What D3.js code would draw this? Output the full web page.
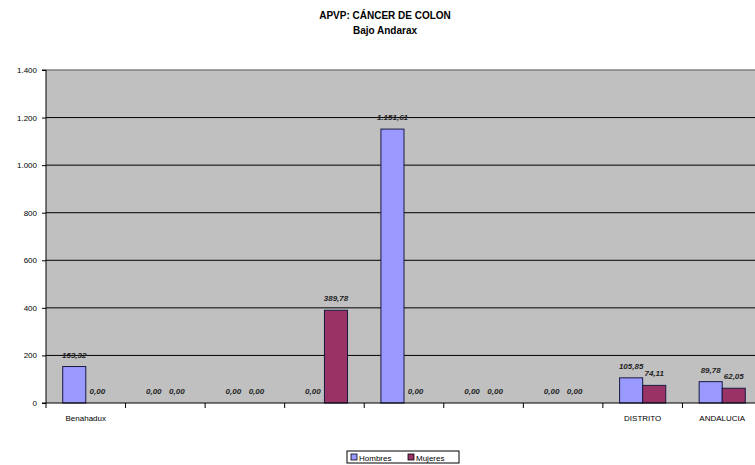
<!DOCTYPE html>
<html>
<head>
<meta charset="utf-8">
<script src="https://cdn.jsdelivr.net/npm/d3@7"></script>
<style>
  html, body { margin: 0; padding: 0; background: #fff; }
  svg { display: block; font-family: "Liberation Sans", Arial, sans-serif; }
</style>
</head>
<body>
<svg id="chart" width="755" height="465"></svg>
<script>
// Years of potential life lost (APVP), colon cancer, by municipality
const categories = ["Benahadux", "", "", "", "", "", "", "DISTRITO", "ANDALUCIA"];
const hombres = [153.32, 0.00, 0.00, 0.00, 1151.61, 0.00, 0.00, 105.85, 89.78];
const mujeres = [0.00, 0.00, 0.00, 389.78, 0.00, 0.00, 0.00, 74.11, 62.05];
const seriesNames = ["Hombres", "Mujeres"];
const yTicks = [0, 200, 400, 600, 800, 1000, 1200, 1400];

const colors = { Hombres: "#9999FF", Mujeres: "#993366" };

const svg = d3.select("#chart");
const plot = { left: 46, right: 762, top: 70, bottom: 403 };

const fmtAxis = v => d3.format(",")(v).replace(/,/g, ".");
const fmtVal = v => v.toLocaleString("es-ES", { minimumFractionDigits: 2, maximumFractionDigits: 2, useGrouping: true })
  .replace(/^(\d)(\d{3}),/, "$1.$2,");

const x = d3.scaleBand().domain(d3.range(categories.length))
  .range([plot.left, plot.right]).paddingInner(0).paddingOuter(0);
const bw = x.bandwidth() * 0.29;
const y = d3.scaleLinear().domain([0, 1400]).range([plot.bottom, plot.top]);

// plot background
svg.append("rect")
  .attr("x", plot.left).attr("y", plot.top)
  .attr("width", plot.right - plot.left).attr("height", plot.bottom - plot.top)
  .attr("fill", "#C0C0C0");

// gridlines
svg.append("g").selectAll("line").data(yTicks.filter(d => d > 0)).join("line")
  .attr("x1", plot.left).attr("x2", plot.right)
  .attr("y1", d => y(d)).attr("y2", d => y(d))
  .attr("stroke", d => d === 1400 ? "#808080" : "#000")
  .attr("stroke-width", d => d === 1400 ? 1.5 : 1);

// y axis
const yAxis = d3.axisLeft(y).tickValues(yTicks).tickFormat(fmtAxis).tickSize(4).tickPadding(5);
const gy = svg.append("g").attr("transform", `translate(${plot.left},0)`).call(yAxis);
gy.select(".domain").attr("stroke", "#000").attr("d", `M-4,${plot.top}H0V${plot.bottom}H-4`);
gy.selectAll(".tick line").attr("stroke", "#000");
gy.selectAll(".tick text").attr("font-size", 8).attr("fill", "#000");

// bars
const rows = categories.map((c, i) => ({ i, values: [hombres[i], mujeres[i]] }));
const groups = svg.append("g").selectAll("g").data(rows).join("g");
groups.each(function (r) {
  const g = d3.select(this);
  const start = x(r.i) + (x.bandwidth() - 2 * bw) / 2;
  r.values.forEach((v, k) => {
    const bx = start + k * bw;
    if (v > 0) {
      g.append("rect")
        .attr("x", bx).attr("y", y(v))
        .attr("width", bw).attr("height", y(0) - y(v))
        .attr("fill", colors[seriesNames[k]])
        .attr("stroke", "#1a1a40").attr("stroke-width", 1);
    }
    g.append("text")
      .attr("x", bx + bw / 2).attr("y", y(v) - 9)
      .attr("text-anchor", "middle")
      .attr("font-size", 8).attr("font-weight", "bold").attr("font-style", "italic")
      .attr("fill", "#222")
      .text(fmtVal(v));
  });
});

// x axis
const gx = svg.append("g").attr("transform", `translate(0,${plot.bottom})`);
gx.append("line").attr("x1", plot.left).attr("x2", plot.right).attr("stroke", "#000");
gx.selectAll("line.tk").data(d3.range(categories.length + 1)).join("line")
  .attr("class", "tk")
  .attr("x1", i => plot.left + i * x.step()).attr("x2", i => plot.left + i * x.step())
  .attr("y1", 0).attr("y2", 5).attr("stroke", "#000");
gx.selectAll("text").data(categories).join("text")
  .attr("x", (d, i) => x(i) + x.bandwidth() / 2).attr("y", 18)
  .attr("text-anchor", "middle").attr("font-size", 8).attr("fill", "#000")
  .text(d => d);

// titles
svg.append("text").attr("x", 385).attr("y", 19).attr("text-anchor", "middle")
  .attr("font-size", 10).attr("font-weight", "bold").text("APVP: CÁNCER DE COLON");
svg.append("text").attr("x", 385).attr("y", 34).attr("text-anchor", "middle")
  .attr("font-size", 10).attr("font-weight", "bold").text("Bajo Andarax");

// legend
const lg = svg.append("g").attr("transform", "translate(347,451)");
lg.append("rect").attr("width", 112).attr("height", 12).attr("fill", "#fff").attr("stroke", "#000");
seriesNames.forEach((s, k) => {
  const ox = 4 + k * 57;
  lg.append("rect").attr("x", ox).attr("y", 3).attr("width", 6).attr("height", 6)
    .attr("fill", colors[s]).attr("stroke", "#000").attr("stroke-width", 0.8);
  lg.append("text").attr("x", ox + 8).attr("y", 9.5).attr("font-size", 8).text(s);
});
</script>
</body>
</html>
